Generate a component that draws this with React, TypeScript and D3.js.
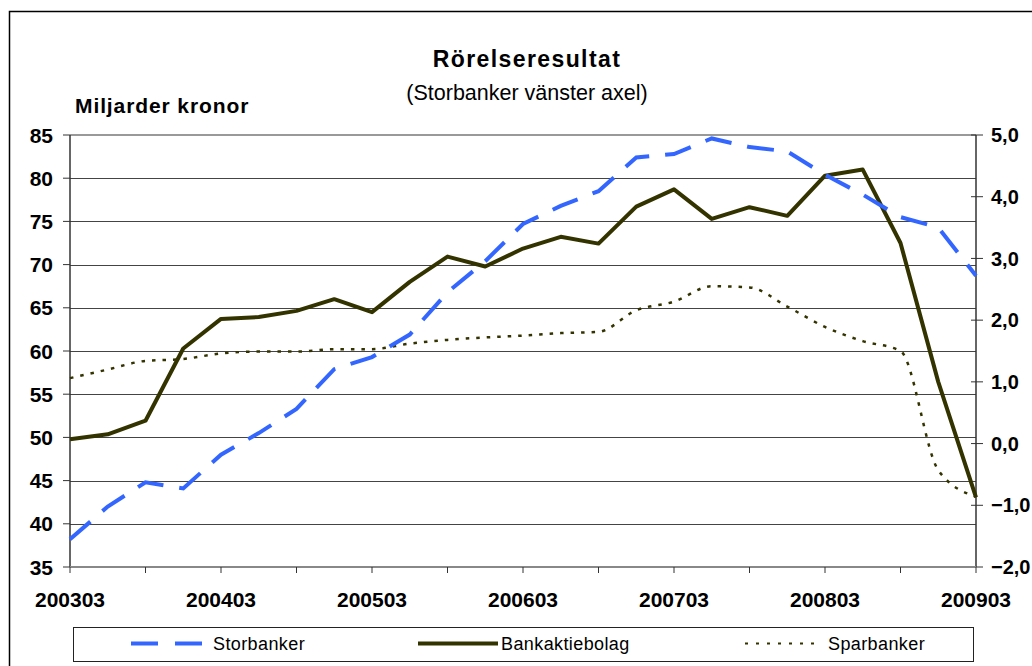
import React from "react";
import * as d3 from "d3";

const categories = [
  "200303", "200306", "200309", "200312",
  "200403", "200406", "200409", "200412",
  "200503", "200506", "200509", "200512",
  "200603", "200606", "200609", "200612",
  "200703", "200706", "200709", "200712",
  "200803", "200806", "200809", "200812",
  "200903",
];

// left axis, miljarder kronor
const storbanker = [
  38.2, 42.0, 44.8, 44.1, 48.0, 50.5, 53.3, 57.9, 59.3, 61.9, 66.8, 70.4,
  74.7, 76.8, 78.5, 82.4, 82.8, 84.6, 83.6, 83.1, 80.4, 78.1, 75.5, 74.3, 68.7,
];

// right axis
const bankaktiebolag = [
  0.07, 0.15, 0.37, 1.54, 2.02, 2.05, 2.15, 2.34, 2.13, 2.62, 3.03, 2.87,
  3.16, 3.35, 3.24, 3.84, 4.12, 3.64, 3.83, 3.69, 4.34, 4.44, 3.25, 1.0, -0.87,
];

const sparbanker = [
  1.06, 1.2, 1.34, 1.37, 1.46, 1.49, 1.49, 1.53, 1.53, 1.62, 1.68, 1.72,
  1.75, 1.79, 1.81, 2.16, 2.3, 2.55, 2.53, 2.22, 1.89, 1.66, 1.5, -0.43, -0.86,
];

const leftTicks = [35, 40, 45, 50, 55, 60, 65, 70, 75, 80, 85];
const rightTicks = [-2, -1, 0, 1, 2, 3, 4, 5];

const W = 1032;
const H = 666;
const FONT = "'Liberation Sans', Arial, sans-serif";
const BLUE = "#3366ff";
const OLIVE = "#333300";

const App = () => {
  const plot = { left: 70, right: 976, top: 135, bottom: 567 };

  const x = d3.scalePoint().domain(categories).range([plot.left, plot.right]);
  const yLeft = d3.scaleLinear().domain([35, 85]).range([plot.bottom, plot.top]);
  const yRight = d3.scaleLinear().domain([-2, 5]).range([plot.bottom, plot.top]);

  const lineLeft = d3
    .line<number>()
    .x((d, i) => x(categories[i]) as number)
    .y((d) => yLeft(d));

  const lineRight = d3
    .line<number>()
    .x((d, i) => x(categories[i]) as number)
    .y((d) => yRight(d));

  // sparbanker is drawn smoothed in the original
  const lineRightSmooth = d3
    .line<number>()
    .x((d, i) => x(categories[i]) as number)
    .y((d) => yRight(d))
    .curve(d3.curveMonotoneX);

  const fmt = (v: number) => d3.format(".1f")(v).replace(".", ",");

  return (
    <svg
      width={W}
      height={H}
      style={{ position: "absolute", left: 0, top: 0, background: "#fff" }}
      fontFamily={FONT}
    >
      {/* outer chart frame */}
      <path d={`M9.5,${H} V11.5 H${W}`} fill="none" stroke="#000" strokeWidth={1.5} />

      <text x={527} y={67} textAnchor="middle" fontSize={23} fontWeight="bold" letterSpacing={1.4}>
        Rörelseresultat
      </text>
      <text x={527} y={100} textAnchor="middle" fontSize={21.5}>
        (Storbanker vänster axel)
      </text>
      <text x={75} y={113} fontSize={21} fontWeight="bold" letterSpacing={0.9}>
        Miljarder kronor
      </text>

      {/* gridlines */}
      {leftTicks.slice(1, -1).map((t) => (
        <line
          key={t}
          x1={plot.left}
          x2={plot.right}
          y1={Math.round(yLeft(t)) + 0.5}
          y2={Math.round(yLeft(t)) + 0.5}
          stroke="#444"
          strokeWidth={1}
        />
      ))}
      <line x1={plot.left} x2={plot.right} y1={plot.top} y2={plot.top} stroke="#999" strokeWidth={2} />

      {/* left axis */}
      <line x1={plot.left} x2={plot.left} y1={plot.top} y2={plot.bottom} stroke="#333" strokeWidth={1.5} />
      {leftTicks.map((t) => (
        <g key={t}>
          <line x1={plot.left - 7} x2={plot.left} y1={yLeft(t)} y2={yLeft(t)} stroke="#333" />
          <text
            x={53}
            y={yLeft(t)}
            dy="0.36em"
            textAnchor="end"
            fontSize={21}
            fontWeight="bold"
          >
            {t}
          </text>
        </g>
      ))}

      {/* right axis */}
      <line x1={plot.right} x2={plot.right} y1={plot.top} y2={plot.bottom} stroke="#333" strokeWidth={1.5} />
      {rightTicks.map((t) => (
        <g key={t}>
          <line x1={plot.right - 5} x2={plot.right + 7} y1={yRight(t)} y2={yRight(t)} stroke="#333" />
          <text x={991} y={yRight(t)} dy="0.36em" fontSize={20} fontWeight="bold">
            {fmt(t)}
          </text>
        </g>
      ))}

      {/* bottom axis */}
      <line x1={plot.left} x2={plot.right} y1={plot.bottom} y2={plot.bottom} stroke="#888" strokeWidth={2} />
      {categories.map((c, i) =>
        i % 2 === 0 ? (
          <line
            key={c}
            x1={x(c)}
            x2={x(c)}
            y1={plot.bottom}
            y2={plot.bottom + 6}
            stroke="#333"
          />
        ) : null
      )}
      {categories.map((c, i) =>
        i % 4 === 0 ? (
          <text key={c} x={x(c)} y={607} textAnchor="middle" fontSize={21} fontWeight="bold">
            {c}
          </text>
        ) : null
      )}

      {/* series */}
      <path
        d={lineRightSmooth(sparbanker) || ""}
        fill="none"
        stroke={OLIVE}
        strokeWidth={2.5}
        strokeDasharray="3.5,7"
      />
      <path d={lineRight(bankaktiebolag) || ""} fill="none" stroke={OLIVE} strokeWidth={4} strokeLinejoin="round" />
      <path
        d={lineLeft(storbanker) || ""}
        fill="none"
        stroke={BLUE}
        strokeWidth={4}
        strokeDasharray="27,16"
      />

      {/* legend */}
      <rect x={73.5} y={627.5} width={900} height={34} fill="#fff" stroke="#222" strokeWidth={1} />
      <line x1={131} x2={204} y1={643.5} y2={643.5} stroke={BLUE} strokeWidth={4} strokeDasharray="27,17" />
      <text x={213} y={650} fontSize={18} letterSpacing={0.4}>
        Storbanker
      </text>
      <line x1={418} x2={498} y1={643.5} y2={643.5} stroke={OLIVE} strokeWidth={4} />
      <text x={501} y={650} fontSize={18} letterSpacing={0.4}>
        Bankaktiebolag
      </text>
      <line x1={745} x2={822} y1={643.5} y2={643.5} stroke={OLIVE} strokeWidth={2} strokeDasharray="3,8" />
      <text x={828} y={650} fontSize={18} letterSpacing={0.4}>
        Sparbanker
      </text>
    </svg>
  );
};

export default App;
